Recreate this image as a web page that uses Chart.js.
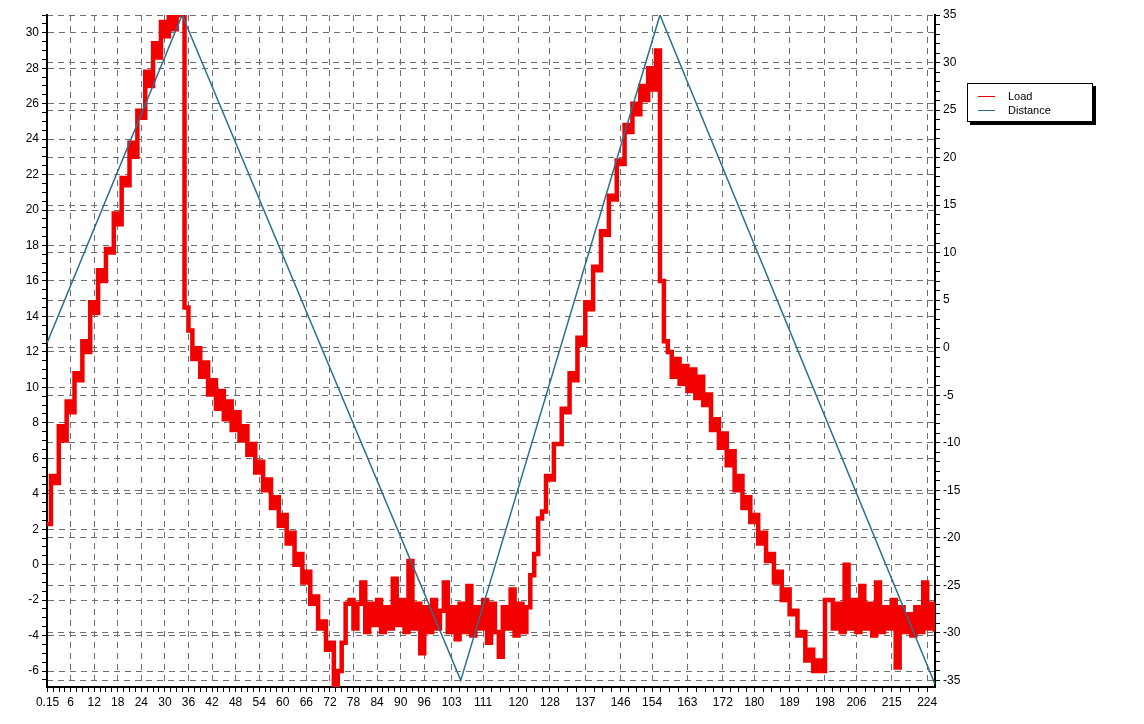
<!DOCTYPE html>
<html>
<head>
<meta charset="utf-8">
<script src="https://cdn.jsdelivr.net/npm/chart.js@4.4.0/dist/chart.umd.min.js"></script>
<style>
  html, body { margin: 0; padding: 0; background: #fff; }
  #wrap { position: absolute; left: 0; top: 0; width: 975px; height: 724px; }
  #legend {
    position: absolute; left: 967px; top: 83px; width: 124px; height: 37px;
    border: 1px solid #000; box-shadow: 3px 3px 0 #000; background: #fff;
    font: 11px "Liberation Sans", Arial, sans-serif; color: #000;
  }
  .row { position: absolute; left: 0; width: 100%; height: 14px; line-height: 14px; }
  .swatch { position: absolute; left: 10px; top: 7px; width: 17px; height: 1px; }
  .txt { position: absolute; left: 40px; white-space: nowrap; }
</style>
</head>
<body>
<div id="wrap"><canvas id="chart" width="975" height="724"></canvas></div>
<div id="legend"></div>
<script>
// ---------------------------------------- | Data

const seriesNames = ["Load", "Distance"]
const seriesColors = ["#f20000", "#2b6f8e"]

const xTicks = ["0.15", "6", "12", "18", "24", "30", "36", "42", "48", "54", "60", "66", "72", "78", "84", "90",
  "96", "103", "111", "120", "128", "137", "146", "154", "163", "172", "180", "189", "198", "206", "215", "224"]

// load, one reading per second from t = 0
const loadVals = [
  2.3, 5.0, 4.6, 7.8, 7.0, 9.2, 8.6, 10.8, 10.4, 12.6, 12.0, 14.8, 14.2, 16.6, 16.0, 17.8, 17.6, 19.8, 19.2, 21.8,
  21.4, 23.8, 23.0, 25.6, 25.2, 27.8, 27.0, 29.4, 28.6, 30.6, 29.8, 31, 30.2, 31, 31,
  14.5, 13.2, 11.6, 12.2, 10.6, 11.4, 9.6, 10.4, 8.8, 9.8, 8.2, 9.2, 7.6, 8.6, 7.0, 7.8, 6.2, 6.8, 5.2, 5.8,
  4.2, 4.8, 3.2, 3.8, 2.2, 2.8, 1.2, 1.8, 0.0, 0.6, -1.0, -0.4, -2.2, -1.8, -3.6, -3.2, -4.8, -4.4, -6.8, -6.0,
  -4.4, -2.2,
  -2.0, -3.6, -2.2, -1.0, -3.8, -2.2, -3.4, -2.0, -3.8, -2.4, -3.6, -0.8, -3.4, -2.0, -3.8, 0.2, -3.6, -2.2,
  -5.0, -2.4, -3.8, -2.0, -3.6, -2.6, -1.0, -3.8, -2.4, -4.2, -2.2, -3.8, -1.2, -4.0, -2.4, -3.6, -2.0, -4.4,
  -2.2, -3.8, -5.2, -2.4, -3.6, -1.4, -4.0, -2.2, -3.8,
  -2.4, -0.6, 0.6, 2.6, 3.0, 5.0, 4.8, 6.8, 6.8, 8.8, 8.6, 10.8, 10.4, 12.8, 12.4, 14.8, 14.4, 16.8, 16.6, 18.8,
  18.6, 20.8, 20.6, 22.8, 22.6, 24.8, 24.4, 26.0, 25.4, 27.0, 26.2, 28.0, 26.8, 29.0,
  16.0, 12.6, 12.0, 10.6, 11.6, 10.2, 11.2, 9.8, 11.0, 9.4, 10.6, 9.0, 9.6, 7.6, 8.2, 6.6, 7.4, 5.6, 6.4, 4.2,
  5.0, 3.2, 3.8, 2.4, 2.8, 1.2, 1.8, 0.2, 0.6, -1.0, -0.4, -2.0, -1.4, -2.8, -2.6, -4.0, -3.8, -5.4, -4.8, -6.0,
  -5.4, -6.0, -2.0,
  -2.0, -3.6, -2.2, -3.8, 0.0, -3.6, -2.0, -3.8, -1.2, -3.6, -2.2, -4.0, -1.0, -3.8, -2.4, -3.6, -2.0, -5.8,
  -2.4, -3.8, -2.8, -4.0, -2.4, -3.8, -1.0, -3.6, -2.2, -3.8
]

// distance turning points
const distTimes = [0, 34.4, 105.3, 156, 226]
const distVals = [0.5, 35, -35, 35, -35.4]

const xMin = 0
const xMax = 226
const leftMin = -6.9
const leftMax = 31
const rightMin = -35.7
const rightMax = 35

// ---------------------------------------- | Chart

const gridColor = "#6e6e6e"
const tickFont = { family: "Liberation Sans", size: 12 }

const loadData = loadVals.map((v, i) => ({ x: i, y: v }))
const distData = distTimes.map((t, i) => ({ x: t, y: distVals[i] }))

const ctx = document.getElementById("chart").getContext("2d")

const chart = new Chart(ctx, {
  type: "line",
  data: {
    datasets: [
      {
        label: seriesNames[0],
        data: loadData,
        yAxisID: "y",
        borderColor: seriesColors[0],
        borderWidth: 4.5,
        borderJoinStyle: "miter",
        pointRadius: 0,
        stepped: true,
        order: 1
      },
      {
        label: seriesNames[1],
        data: distData,
        yAxisID: "y2",
        borderColor: seriesColors[1],
        borderWidth: 1.5,
        pointRadius: 0,
        order: 0
      }
    ]
  },
  options: {
    responsive: false,
    animation: false,
    layout: { padding: { top: 15, left: 0, right: 0, bottom: 0 } },
    plugins: { legend: { display: false }, tooltip: { enabled: false } },
    scales: {
      x: {
        type: "linear",
        min: xMin,
        max: xMax,
        afterBuildTicks(scale) {
          const ticks = []
          xTicks.forEach((lab, i) => {
            const v = parseFloat(lab)
            ticks.push({ value: v, lab: lab })
            if (i < xTicks.length - 1) {
              const next = parseFloat(xTicks[i + 1])
              for (let k = 1; k < 4; k++) ticks.push({ value: v + (next - v) * k / 4 })
            }
          })
          scale.ticks = ticks
        },
        afterFit(scale) { scale.height = 37 },
        ticks: {
          autoSkip: false,
          maxRotation: 0,
          padding: 3,
          color: "#000",
          font: tickFont,
          callback: (value, index, ticks) => ticks[index].lab || ""
        },
        grid: {
          color: c => (c.tick && c.tick.lab ? gridColor : "rgba(0,0,0,0)"),
          tickColor: "#000",
          tickLength: 5
        },
        border: { color: "#000", width: 2, dash: [6, 5] }
      },
      y: {
        position: "left",
        min: leftMin,
        max: leftMax,
        afterFit(scale) { scale.width = 47 },
        ticks: {
          stepSize: 0.5,
          includeBounds: false,
          maxTicksLimit: 500,
          autoSkip: false,
          padding: 3,
          color: "#000",
          font: tickFont,
          callback: v => (v % 2 === 0 ? v : "")
        },
        grid: {
          color: c => (c.tick && c.tick.value % 2 === 0 ? gridColor : "rgba(0,0,0,0)"),
          tickColor: "#000",
          tickLength: 5
        },
        border: { color: "#000", width: 2, dash: [6, 5] }
      },
      y2: {
        position: "right",
        min: rightMin,
        max: rightMax,
        afterFit(scale) { scale.width = 40 },
        ticks: {
          stepSize: 1,
          includeBounds: false,
          maxTicksLimit: 500,
          autoSkip: false,
          padding: 3,
          color: "#000",
          font: tickFont,
          callback: v => (v % 5 === 0 ? v : "")
        },
        grid: {
          color: c => (c.tick && c.tick.value % 5 === 0 ? gridColor : "rgba(0,0,0,0)"),
          tickColor: "#000",
          tickLength: 5
        },
        border: { color: "#000", width: 2, dash: [6, 5] }
      }
    }
  }
})

// ---------------------------------------- | Legend

const legend = document.getElementById("legend")
chart.data.datasets.forEach((ds, i) => {
  const row = document.createElement("div")
  row.className = "row"
  row.style.top = (5 + i * 14) + "px"
  row.innerHTML = '<span class="swatch" style="background:' + ds.borderColor + '"></span>' +
    '<span class="txt">' + ds.label + "</span>"
  legend.appendChild(row)
})
</script>
</body>
</html>
